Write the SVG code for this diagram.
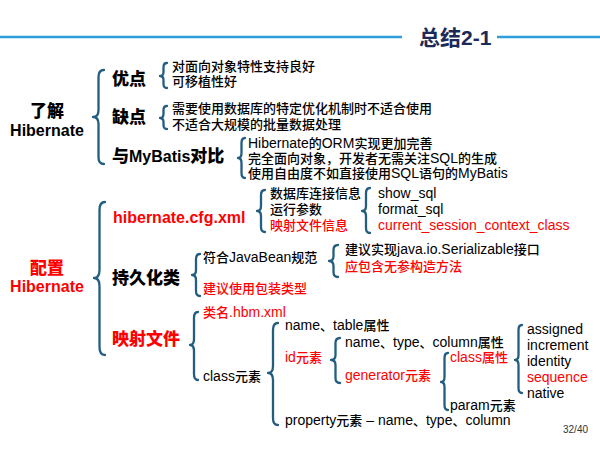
<svg xmlns="http://www.w3.org/2000/svg" width="600" height="450" viewBox="0 0 600 450">
  <style>
    text { font-family: "Liberation Sans", "Noto Sans CJK SC", sans-serif; fill: #000; }
    .title { font-size: 21px; font-weight: bold; fill: #1c2a58; }
    .h { font-size: 16px; font-weight: bold; }
    .hc { font-size: 17px; font-weight: 900; }
    .t { font-size: 14px; }
    .c { font-size: 13px; font-weight: 500; }
    .r { fill: #ff0000; }
    .ctr { text-anchor: middle; }
    .rule { stroke: #2e9fd8; stroke-width: 2.5; }
    .br { fill: none; stroke: #235d80; stroke-width: 2.3; stroke-linecap: round; stroke-linejoin: round; }
    .pg { font-size: 10px; fill: #333; }
  </style>

  <!-- header -->
  <g id="header">
    <line class="rule" x1="0" y1="37" x2="402" y2="37"/>
    <line class="rule" x1="497" y1="37" x2="600" y2="37"/>
    <text class="title" x="419" y="45">总结2-1</text>
  </g>

  <!-- curly braces linking each topic to its items -->
  <g id="connectors">
    <path class="br" d="M104,70 Q98.5,70 98.5,77 L98.5,110 Q98.5,117 93,117 Q98.5,117 98.5,124 L98.5,157 Q98.5,164 104,164"/>
    <path class="br" d="M167,63 Q163.5,63 163.5,67 L163.5,72 Q163.5,76 160,76 Q163.5,76 163.5,80 L163.5,84 Q163.5,88 167,88"/>
    <path class="br" d="M167,106 Q163.5,106 163.5,110 L163.5,114 Q163.5,118 160,118 Q163.5,118 163.5,122 L163.5,125 Q163.5,129 167,129"/>
    <path class="br" d="M245,138 Q241.5,138 241.5,143 L241.5,153 Q241.5,158 238,158 Q241.5,158 241.5,163 L241.5,173 Q241.5,178 245,178"/>
    <path class="br" d="M105,202 Q99.5,202 99.5,210 L99.5,270 Q99.5,278 94,278 Q99.5,278 99.5,286 L99.5,347 Q99.5,355 105,355"/>
    <path class="br" d="M265,190 Q261,190 261,195 L261,206 Q261,211 257,211 Q261,211 261,216 L261,227 Q261,232 265,232"/>
    <path class="br" d="M370,188 Q366,188 366,193 L366,206 Q366,211 362,211 Q366,211 366,216 L366,228 Q366,233 370,233"/>
    <path class="br" d="M200,254 Q196,254 196,259 L196,270 Q196,275 192,275 Q196,275 196,280 L196,291 Q196,296 200,296"/>
    <path class="br" d="M338,245 Q333.5,245 333.5,250 L333.5,256 Q333.5,261 329,261 Q333.5,261 333.5,266 L333.5,272 Q333.5,277 338,277"/>
    <path class="br" d="M198,312 Q194,312 194,318 L194,339 Q194,345 190,345 Q194,345 194,351 L194,374 Q194,380 198,380"/>
    <path class="br" d="M278,323 Q273,323 273,330 L273,366 Q273,373 268,373 Q273,373 273,380 L273,418 Q273,425 278,425"/>
    <path class="br" d="M340,338 Q335.5,338 335.5,343 L335.5,355 Q335.5,360 331,360 Q335.5,360 335.5,365 L335.5,378 Q335.5,383 340,383"/>
    <path class="br" d="M448,353 Q444.5,353 444.5,358 L444.5,377 Q444.5,382 441,382 Q444.5,382 444.5,387 L444.5,405 Q444.5,410 448,410"/>
    <path class="br" d="M522,325 Q518.5,325 518.5,330 L518.5,355 Q518.5,360 515,360 Q518.5,360 518.5,365 L518.5,388 Q518.5,393 522,393"/>
  </g>

  <!-- part 1: understanding Hibernate -->
  <g id="know">
    <text class="h hc ctr" x="47" y="117">了解</text>
    <text class="h ctr" x="47" y="136">Hibernate</text>
  </g>
  <g id="pros">
    <text class="h hc" x="112" y="85">优点</text>
  </g>
  <g id="pros-items">
    <text class="t c" x="172" y="71">对面向对象特性支持良好</text>
    <text class="t c" x="172" y="86">可移植性好</text>
  </g>
  <g id="cons">
    <text class="h hc" x="112" y="123">缺点</text>
  </g>
  <g id="cons-items">
    <text class="t c" x="172" y="113">需要使用数据库的特定优化机制时不适合使用</text>
    <text class="t c" x="172" y="129">不适合大规模的批量数据处理</text>
  </g>
  <g id="vs-mybatis">
    <text class="h" x="112" y="162"><tspan class="hc">与</tspan>MyBatis<tspan class="hc">对比</tspan></text>
  </g>
  <g id="vs-items">
    <text class="t" x="248" y="148">Hibernate<tspan class="c">的</tspan>ORM<tspan class="c">实现更加完善</tspan></text>
    <text class="t" x="248" y="163"><tspan class="c">完全面向对象，开发者无需关注</tspan>SQL<tspan class="c">的生成</tspan></text>
    <text class="t" x="248" y="178"><tspan class="c">使用自由度不如直接使用</tspan>SQL<tspan class="c">语句的</tspan>MyBatis</text>
  </g>

  <!-- part 2: configuring Hibernate -->
  <g id="config">
    <text class="h hc ctr r" x="47" y="274">配置</text>
    <text class="h ctr r" x="47" y="292">Hibernate</text>
  </g>
  <g id="cfg-xml">
    <text class="h r" x="113" y="223">hibernate.cfg.xml</text>
  </g>
  <g id="cfg-items">
    <text class="t c" x="270" y="198">数据库连接信息</text>
    <text class="t c" x="270" y="214">运行参数</text>
    <text class="t c r" x="270" y="230">映射文件信息</text>
  </g>
  <g id="run-params">
    <text class="t" x="378" y="198">show_sql</text>
    <text class="t" x="378" y="214">format_sql</text>
    <text class="t r" x="378" y="230">current_session_context_class</text>
  </g>
  <g id="persistent">
    <text class="h hc" x="112" y="284">持久化类</text>
  </g>
  <g id="persistent-items">
    <text class="t" x="203" y="262"><tspan class="c">符合</tspan>JavaBean<tspan class="c">规范</tspan></text>
    <text class="t c r" x="203" y="293">建议使用包装类型</text>
  </g>
  <g id="javabean-items">
    <text class="t" x="345" y="254"><tspan class="c">建议实现</tspan>java.io.Serializable<tspan class="c">接口</tspan></text>
    <text class="t c r" x="345" y="271">应包含无参构造方法</text>
  </g>
  <g id="mapping">
    <text class="h hc r" x="112" y="345">映射文件</text>
  </g>
  <g id="mapping-items">
    <text class="t r" x="203" y="317"><tspan class="c">类名</tspan>.hbm.xml</text>
    <text class="t" x="203" y="381">class<tspan class="c">元素</tspan></text>
  </g>
  <g id="class-items">
    <text class="t" x="285" y="330">name<tspan class="c">、</tspan>table<tspan class="c">属性</tspan></text>
    <text class="t r" x="285" y="362">id<tspan class="c">元素</tspan></text>
    <text class="t" x="285" y="425">property<tspan class="c">元素</tspan> – name<tspan class="c">、</tspan>type<tspan class="c">、</tspan>column</text>
  </g>
  <g id="id-items">
    <text class="t" x="345" y="347">name<tspan class="c">、</tspan>type<tspan class="c">、</tspan>column<tspan class="c">属性</tspan></text>
    <text class="t r" x="345" y="380">generator<tspan class="c">元素</tspan></text>
  </g>
  <g id="generator-items">
    <text class="t r" x="450" y="362">class<tspan class="c">属性</tspan></text>
    <text class="t" x="450" y="410">param<tspan class="c">元素</tspan></text>
  </g>
  <g id="class-values">
    <text class="t" x="527" y="334">assigned</text>
    <text class="t" x="527" y="350">increment</text>
    <text class="t" x="527" y="366">identity</text>
    <text class="t r" x="527" y="382">sequence</text>
    <text class="t" x="527" y="398">native</text>
  </g>

  <g id="page-number">
    <text class="pg" x="563" y="433">32/40</text>
  </g>
</svg>
